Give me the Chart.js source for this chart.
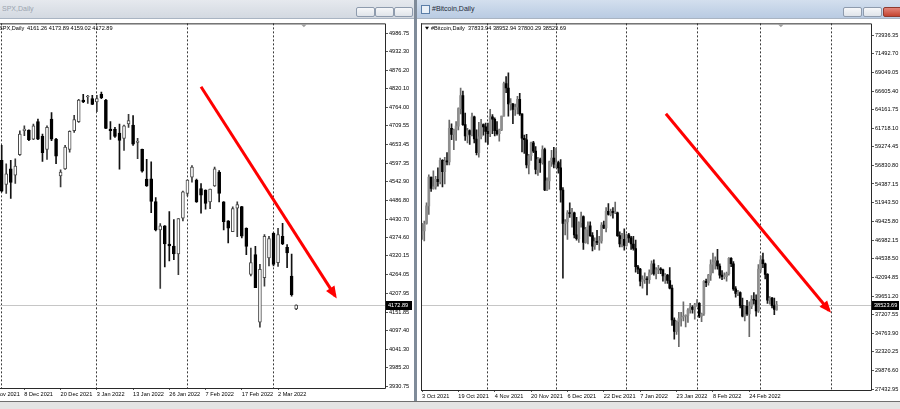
<!DOCTYPE html>
<html>
<head>
<meta charset="utf-8">
<script src="https://cdn.jsdelivr.net/npm/chart.js@4.4.1/dist/chart.umd.min.js"></script>
<style>
  html, body { margin: 0; padding: 0; width: 900px; height: 409px; overflow: hidden; background: #7f8b99; font-family: "Liberation Sans", Arial, sans-serif; }
  .win { position: absolute; top: 0; height: 401px; background: #fff; overflow: hidden; }
  .win canvas { position: absolute; }
  .tb { position: absolute; left: 0; right: 0; top: 0; height: 18px; border-bottom: 1px solid #a9b4c2; z-index: 2; }
  .tb.off { background: linear-gradient(#e6e9ee, #d3d9e1); color: #9ba4af; }
  .tb.on { background: linear-gradient(#d3dfee, #b9cbe2); color: #1e2a38; }
  .tb .tt { position: absolute; top: 5px; font-size: 7px; }
  .bt { position: absolute; top: 7px; width: 17px; height: 8px; border: 1px solid #8e9bad; border-radius: 2px; background: linear-gradient(#f6f7f9, #dfe4ea); }
  .bt.x { background: linear-gradient(#e3857a, #c4432f); border-color: #8e3a2e; }
  .ico { position: absolute; left: 4px; top: 5px; width: 7px; height: 7px; border: 1px solid #5b7ea8; background: #e9f0f8; }
  #status { position: absolute; left: 0; top: 401px; width: 900px; height: 8px; background: #e4e4e4; border-top: 1px solid #6f6f6f; }
</style>
</head>
<body>
<div class="win" style="left:0;width:414px;">
  <div class="tb off"><span class="tt" style="left:2px">SPX,Daily</span>
    <i class="bt" style="left:356px"></i><i class="bt" style="left:375px"></i><i class="bt" style="left:394px"></i></div>
  <!-- canvas starts left of the window: the chart is scrolled, first date label is cut -->
  <canvas id="spx" width="427" height="381" style="left:-14px;top:19px;width:427px;height:381px"></canvas>
</div>
<div class="win" style="left:417px;width:483px;">
  <div class="tb on"><i class="ico"></i><span class="tt" style="left:15px">#Bitcoin,Daily</span>
    <i class="bt" style="left:426px"></i><i class="bt" style="left:446px"></i><i class="bt x" style="left:466px"></i></div>
  <canvas id="btc" width="480" height="381" style="left:3px;top:19px;width:480px;height:381px"></canvas>
</div>
<div id="status"></div>

<script>
/* ---- SPX daily, bar 0 = 1 Dec 2021 ... bar 65 = 8 Mar 2022 ---- */
const spxOpen = [4606,4534,4581,4562,4623,4695,4697,4670,4722,4678, 4639,4730,4670,4560,4581,4639,4695,4722,4787,4796,
  4791,4781,4804,4787,4700,4700,4688,4672,4715,4712, 4660,4639,4550,4551,4483,4398,4410,4356,4350,4326,
  4433,4507,4556,4547,4522,4517,4482,4530,4571,4482, 4425,4393,4463,4468,4403,4265,4324,4122,4255,4314,
  4388,4300,4379,4346,4260,4161.26];
const spxHigh = [4651,4596,4606,4611,4695,4710,4698,4715,4730,4685, 4710,4749,4672,4578,4651,4695,4741,4789,4804,4801,
  4801,4801,4811,4789,4722,4705,4715,4712,4744,4740, 4672,4640,4609,4602,4495,4417,4411,4453,4429,4432,
  4514,4548,4591,4550,4537,4518,4520,4586,4576,4483, 4426,4467,4482,4469,4404,4344,4349,4295,4384,4379,
  4389,4403,4418,4354,4326,4173.89];
const spxLow = [4512,4507,4492,4537,4621,4680,4665,4668,4668,4603, 4609,4665,4596,4527,4579,4631,4690,4720,4779,4777,
  4773,4752,4791,4701,4669,4675,4580,4636,4705,4651, 4611,4571,4528,4450,4395,4223,4287,4305,4309,4264,
  4425,4500,4541,4480,4448,4460,4462,4528,4482,4398, 4359,4393,4378,4374,4324,4260,4225,4107,4230,4290,
  4290,4289,4354,4285,4200,4159.02];
const spxClose = [4514,4566,4540,4589,4685,4700,4668,4710,4670,4629, 4705,4670,4619,4571,4646,4693,4728,4787,4781,4797,
  4774,4791,4794,4702,4695,4678,4666,4710,4725,4655, 4664,4574,4530,4483,4398,4410,4356,4350,4326,4432,
  4512,4547,4586,4482,4502,4477,4520,4581,4507,4423, 4403,4462,4474,4379,4349,4300,4225,4280,4379,4372,
  4295,4384,4356,4329,4204,4172.89];
const spxDateAt = [-3, 5, 13, 21, 29, 37, 45, 53, 61];
const spxDateLabels = ['26 Nov 2021', '8 Dec 2021', '20 Dec 2021', '3 Jan 2022', '13 Jan 2022', '26 Jan 2022', '7 Feb 2022', '17 Feb 2022', '2 Mar 2022'];
const spxMonthStarts = [0, 21, 41, 60];
const spxPriceTicks = [4986.75, 4932.30, 4876.20, 4820.10, 4764.00, 4709.55, 4653.45, 4597.35, 4542.90, 4486.80,
  4430.70, 4374.60, 4320.15, 4264.05, 4207.95, 4151.85, 4097.40, 4041.30, 3985.20, 3930.75];
const spxArrow = [[44.0, 4826.6], [73.6, 4200.6]];

/* ---- #Bitcoin daily, day 0 = 3 Oct 2021 ... day 156 = 8 Mar 2022 ---- */
const btcOpen = [
  47700,48200,49200,51500,55300,53800,54000,55000,54700,57500,56000,57400,57300,61700,60900,61500,62000,64300,66000,62200,60700,61400,60900,63200,60300,58500,60600,62200,61900,
  61300,61000,63200,62900,61400,61000,61500,63300,67600,67000,64900,64900,64200,64500,65500,63600,60400,60200,56900,58100,59800,58700,56300,57600,57200,58900,53600,54800,57300,57800,
  57000,57200,56500,53600,49200,49400,50600,50500,50600,47700,47200,49300,50100,46700,48400,48900,47600,46200,46800,46700,46900,49000,48600,50800,50400,50800,50600,50600,47600,46500,47100,
  46300,47700,47300,46500,45900,43500,43200,41600,41800,41900,41800,42700,43900,42600,43100,43200,43100,42300,42400,41700,40700,36500,35000,36300,36700,36900,37000,37100,37800,38200,37900,
  38500,38700,37000,37300,41600,41400,42400,43800,44100,44300,43600,42400,42200,42200,42600,44600,43900,40600,40000,40100,38400,37000,38300,37300,38300,39200,39100,37700,
  43200,44400,43900,42500,39100,39400,38400,37833.94];
const btcHigh = [
  49200,49500,51900,55600,55300,56100,55400,56500,57800,57600,57900,58500,62800,62300,61600,62600,64400,67000,66600,63700,61700,61500,63700,63300,61500,62500,62900,62300,62400,
  62400,64200,63500,63100,62600,61600,63300,67800,68500,69000,65600,65000,64900,65900,66300,63600,60800,60900,58300,59900,60000,59300,57900,57800,59400,59100,55200,57400,58800,59200,
  59100,57400,57600,53900,49700,50900,51900,51200,50700,50000,49400,50700,50200,48700,49400,49400,48000,47300,48300,47500,49300,49500,51300,51800,51100,51300,52000,50700,48100,47900,48500,
  47800,47900,47500,47500,47000,43700,43300,42300,42700,42200,43100,44300,44400,43400,43700,43400,43200,42600,42500,43400,41100,36800,36400,37500,37500,38900,37200,38000,38700,38400,38700,
  39200,38800,37400,41700,41900,42500,44400,45300,44800,45800,43900,43000,42700,42800,44700,44700,44200,40900,40400,40200,39400,38400,39100,38900,39700,40100,39800,43800,
  44900,45300,44000,42600,39600,39500,39400,38952.94];
const btcLow = [
  47100,46900,49100,50400,53400,53700,53700,54100,54400,54000,54400,56900,56900,60200,58900,60100,61500,63600,62100,60100,59800,59600,60700,59800,58200,57900,60300,60800,59900,
  59600,60600,61000,60700,60800,60000,61400,63300,66400,63300,64100,62300,63400,63600,63400,58600,58400,56500,55700,57500,58500,55700,55500,55900,57000,53500,53500,53700,56700,56500,
  56500,55800,52000,42000,47700,47100,50000,48700,47300,47000,46700,48700,45800,46600,46500,47500,45600,45800,46400,45700,46600,48500,48100,50300,50200,49900,50500,47500,46100,46100,45700,
  46200,46700,45800,45700,42800,42600,41000,40700,41300,39800,41300,42500,42400,41900,42600,42600,41600,41300,41300,40600,35800,34000,34600,33000,35700,36400,35600,36200,37400,37400,36600,
  38300,36800,36300,37100,40900,41100,41700,42700,43200,43200,42000,41800,41900,41600,42400,43500,40400,39500,39700,38100,36900,36400,37100,34300,38000,38600,37000,37500,
  42800,43400,41900,38700,38600,38100,37200,37800.29];
const btcClose = [
  48200,49100,51500,55300,53800,54000,55000,54700,57500,56000,57400,57300,61700,60900,61500,62000,64300,66000,62200,60700,61400,60900,63200,60300,58500,60600,62200,61900,61300,
  61000,63200,62900,61400,61000,61500,63300,67600,67000,64900,64900,64200,64500,65500,63600,60400,60200,56900,58100,59800,58700,56300,57600,57200,58900,53600,54800,57300,57800,57000,
  57200,56500,53600,49200,49400,50600,50500,50600,47700,47200,49300,50100,46700,48400,48900,47600,46200,46800,46700,46900,49000,48600,50800,50400,50800,50600,50600,47600,46500,47100,46300,
  47700,47300,46500,45900,43500,43200,41600,41800,41900,41800,42700,43900,42600,43100,43200,43100,42300,42400,41700,40700,36500,35000,36300,36700,36900,37000,37100,37800,38200,37900,38500,
  38700,37000,37300,41600,41400,42400,43800,44100,44300,43600,42400,42200,42200,42600,44600,43900,40600,40000,40100,38400,37000,38300,37300,38300,39200,39100,37700,43200,
  44400,43900,42500,39100,39400,38400,37900,38523.69];
const btcDateAt = [0, 16, 32, 48, 64, 80, 96, 112, 128, 144];
const btcDateLabels = ['3 Oct 2021', '19 Oct 2021', '4 Nov 2021', '20 Nov 2021', '6 Dec 2021', '22 Dec 2021', '7 Jan 2022', '23 Jan 2022', '8 Feb 2022', '24 Feb 2022'];
const btcMonthStarts = [29, 59, 90, 121, 149, 180];
const btcPriceTicks = [73936.35, 71492.70, 69049.05, 66605.40, 64161.75, 61718.10, 59274.45, 56830.80, 54387.15, 51943.50,
  49425.80, 46982.15, 44538.50, 42094.85, 39651.20, 37207.55, 34763.90, 32320.25, 29876.60, 27432.95];
const btcArrow = [[107.3, 63616], [179.1, 37752]];

const FONT = '"Liberation Sans", Arial, sans-serif';
const FS = 5.6;
Chart.defaults.font.family = FONT;
Chart.defaults.font.size = FS;
Chart.defaults.color = '#000';

// MT4-ish overlays: bid line, arrow head, frame, header, price box, shift marker
function mtPlugin(s) {
  return {
    id: 'mt',
    beforeDatasetsDraw(chart) {
      const { ctx, chartArea: a, scales } = chart;
      const yb = Math.round(scales.y.getPixelForValue(s.close[s.close.length - 1])) + 0.5;
      ctx.save();
      ctx.strokeStyle = '#c6c6c6';
      ctx.lineWidth = 1;
      ctx.beginPath(); ctx.moveTo(a.left, yb); ctx.lineTo(a.right, yb); ctx.stroke();
      ctx.restore();
    },
    afterDatasetsDraw(chart) {
      const pts = chart.getDatasetMeta(0).data;
      const p0 = pts[pts.length - 2], p1 = pts[pts.length - 1];
      const ctx = chart.ctx;
      ctx.save();
      ctx.translate(p1.x, p1.y);
      ctx.rotate(Math.atan2(p1.y - p0.y, p1.x - p0.x));
      ctx.fillStyle = '#ff0000';
      ctx.beginPath(); ctx.moveTo(3, 0); ctx.lineTo(-9, -5); ctx.lineTo(-9, 5); ctx.closePath(); ctx.fill();
      ctx.restore();
    },
    afterDraw(chart) {
      const { ctx, chartArea: a, scales } = chart;
      const n = s.close.length - 1;
      ctx.save();
      ctx.strokeStyle = '#2a2a2a';
      ctx.lineWidth = 1;
      ctx.beginPath();
      ctx.moveTo(a.left, a.top + 0.5); ctx.lineTo(a.right + 0.5, a.top + 0.5);
      ctx.lineTo(a.right + 0.5, a.bottom + 0.5); ctx.lineTo(a.left, a.bottom + 0.5);
      if (s.frameLeft) { ctx.moveTo(a.left + 0.5, a.top); ctx.lineTo(a.left + 0.5, a.bottom); }
      ctx.stroke();

      // shift marker
      const sx = scales.x.getPixelForValue(s.shiftAt);
      ctx.fillStyle = '#a0a0a0';
      ctx.beginPath(); ctx.moveTo(sx - 3, a.top + 1); ctx.lineTo(sx + 3, a.top + 1); ctx.lineTo(sx, a.top + 4); ctx.closePath(); ctx.fill();

      // header: symbol name then last bar OHLC
      ctx.font = FS + 'px ' + FONT;
      ctx.fillStyle = '#000';
      ctx.textBaseline = 'middle';
      const hy = a.top + 5;
      if (s.markX !== null) {
        const mx = a.left + s.markX;
        ctx.beginPath(); ctx.moveTo(mx, hy - 1.5); ctx.lineTo(mx + 4, hy - 1.5); ctx.lineTo(mx + 2, hy + 1.5); ctx.closePath(); ctx.fill();
      }
      ctx.fillText(s.name, a.left + s.nameX, hy);
      const vals = [s.open[n], s.high[n], s.low[n], s.close[n]].map(v => v.toFixed(2)).join(' ');
      ctx.fillText(vals, a.left + s.valuesX, hy);

      // current price box
      const py = Math.round(scales.y.getPixelForValue(s.close[n]));
      ctx.fillStyle = '#000';
      ctx.fillRect(a.right + 1, py - 4, s.boxW, 9);
      ctx.fillStyle = '#fff';
      ctx.fillText(s.close[n].toFixed(2), a.right + 3, py + 0.5);
      ctx.restore();
    }
  };
}

function candleChart(id, s) {
  const isUp = i => s.close[i] >= s.open[i];
  const bodies = s.open.map((o, i) => ({ x: i, y: [o, s.close[i]] }));
  const wicks = s.open.map((o, i) => ({ x: i, y: [s.low[i], s.high[i]] }));
  const arrow = s.arrow.map(p => ({ x: p[0], y: p[1] }));
  return new Chart(document.getElementById(id), {
    type: 'bar',
    data: {
      datasets: [
        { type: 'line', data: arrow, borderColor: '#ff0000', borderWidth: 3, pointRadius: 0, order: 0, xAxisID: 'x', yAxisID: 'y' },
        { data: bodies, xAxisID: 'x', yAxisID: 'y', order: 1, grouped: false, barThickness: s.bodyW, minBarLength: 1,
          borderSkipped: false, borderWidth: s.bodyBorder,
          backgroundColor: c => isUp(c.dataIndex) ? s.upFill : s.downFill,
          borderColor: c => isUp(c.dataIndex) ? s.upLine : s.downLine },
        { data: wicks, xAxisID: 'x', yAxisID: 'y', order: 2, grouped: false, barThickness: 1,
          backgroundColor: c => isUp(c.dataIndex) ? s.upWick : s.downWick }
      ]
    },
    options: {
      responsive: false,
      animation: false,
      events: [],
      layout: { padding: s.padding },
      plugins: { legend: { display: false }, tooltip: { enabled: false } },
      scales: {
        x: {
          type: 'linear', position: 'bottom', min: s.xMin, max: s.xMax, offset: false, bounds: 'data',
          afterBuildTicks: sc => { sc.ticks = s.dateAt.map(v => ({ value: v })); },
          afterFit: sc => { sc.height = s.xAxisH; },
          ticks: { autoSkip: false, maxRotation: 0, align: 'start', padding: 1, callback: (v, i) => s.dateLabels[i] },
          grid: { offset: false, drawOnChartArea: false, drawTicks: true, tickLength: 2, color: '#555' },
          border: { display: false }
        },
        xsep: {
          type: 'linear', position: 'bottom', min: s.xMin, max: s.xMax, offset: false, bounds: 'data',
          afterBuildTicks: sc => { sc.ticks = s.monthStarts.map(v => ({ value: v })); },
          afterFit: sc => { sc.height = 0; },
          ticks: { display: false },
          grid: { offset: false, drawOnChartArea: true, drawTicks: false, color: '#3a3a3a', lineWidth: 1 },
          border: { display: false, dash: [2, 2] }
        },
        y: {
          type: 'linear', position: 'right', min: s.yMin, max: s.yMax, bounds: 'data',
          afterBuildTicks: sc => { sc.ticks = s.priceTicks.map(v => ({ value: v })); },
          afterFit: sc => { sc.width = s.yAxisW; },
          ticks: { autoSkip: false, padding: 1, callback: v => v.toFixed(2) },
          grid: { offset: false, drawOnChartArea: false, drawTicks: true, tickLength: 3, color: '#555' },
          border: { display: false }
        }
      }
    },
    plugins: [mtPlugin(s)]
  });
}

candleChart('spx', {
  open: spxOpen, high: spxHigh, low: spxLow, close: spxClose,
  dateAt: spxDateAt, dateLabels: spxDateLabels, monthStarts: spxMonthStarts, priceTicks: spxPriceTicks, arrow: spxArrow,
  xMin: -3.466, xMax: 84.61, yMin: 3924.8, yMax: 5016.41,
  padding: { top: 1, left: 0, right: 0, bottom: 0 }, xAxisH: 12, yAxisW: 28,
  bodyW: 3, bodyBorder: 1, upFill: '#ffffff', downFill: '#000000', upLine: '#4a4a4a', downLine: '#000000',
  upWick: '#3a3a3a', downWick: '#111111',
  name: 'SPX,Daily', markX: null, nameX: 13, valuesX: 41, frameLeft: false, boxW: 26, shiftAt: 66.7
});

candleChart('btc', {
  open: btcOpen, high: btcHigh, low: btcLow, close: btcClose,
  dateAt: btcDateAt, dateLabels: btcDateLabels, monthStarts: btcMonthStarts, priceTicks: btcPriceTicks, arrow: btcArrow,
  xMin: -0.44, xMax: 197.54, yMin: 27301.95, yMax: 75503.9,
  padding: { top: 2, left: 1, right: 0, bottom: 0 }, xAxisH: 10, yAxisW: 29,
  bodyW: 2, bodyBorder: 0, upFill: '#8e8e8e', downFill: '#000000', upLine: '#8e8e8e', downLine: '#000000',
  upWick: '#6a6a6a', downWick: '#1a1a1a',
  name: '#Bitcoin,Daily', markX: 4, nameX: 10, valuesX: 47, frameLeft: true, boxW: 27, shiftAt: 157.9
});
</script>
</body>
</html>
